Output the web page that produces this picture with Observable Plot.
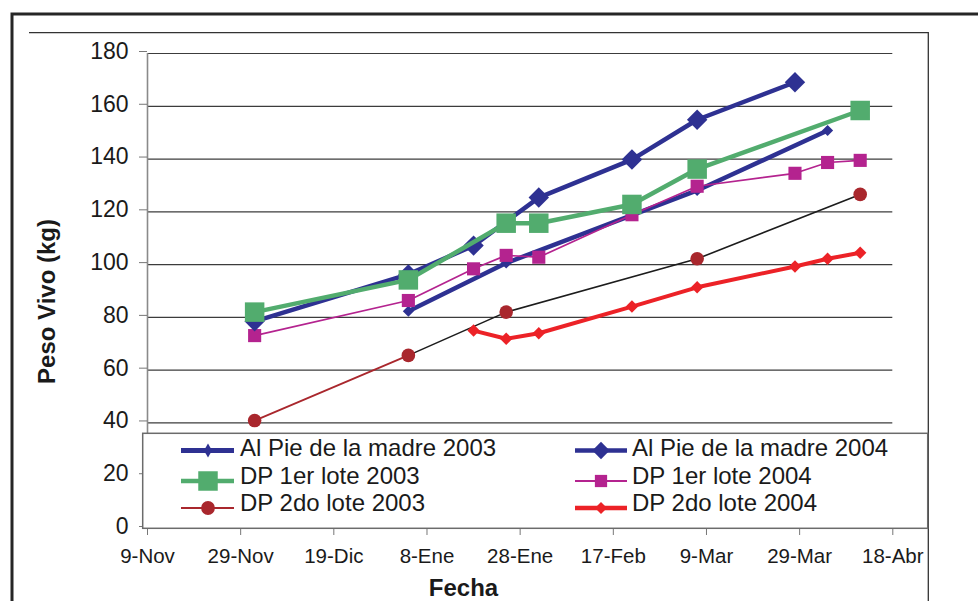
<!DOCTYPE html>
<html>
<head>
<meta charset="utf-8">
<script src="https://cdn.jsdelivr.net/npm/d3@7"></script>
<script src="https://cdn.jsdelivr.net/npm/@observablehq/plot@0.6"></script>
<style>
  html, body { margin: 0; padding: 0; background: #fff; }
  #chart { width: 978px; height: 601px; overflow: hidden; position: relative; }
</style>
</head>
<body>
<div id="chart"></div>
<script>
// Peso vivo (kg) por fecha de pesada, seis lotes de terneros
const alPie2003Fechas = ["2003-01-04", "2003-01-25", "2003-03-07", "2003-04-04"];
const alPie2003Peso   = [82.3, 100.6, 128.1, 150.8];

const alPie2004Fechas = ["2002-12-02", "2003-01-04", "2003-01-18", "2003-02-01", "2003-02-21", "2003-03-07", "2003-03-28"];
const alPie2004Peso   = [78.5, 96.3, 107.2, 125.4, 139.8, 154.9, 169.1];

const dp1lote2003Fechas = ["2002-12-02", "2003-01-04", "2003-01-25", "2003-02-01", "2003-02-21", "2003-03-07", "2003-04-11"];
const dp1lote2003Peso   = [82.0, 94.2, 115.7, 115.7, 122.8, 136.2, 158.4];

const dp1lote2004Fechas = ["2002-12-02", "2003-01-04", "2003-01-18", "2003-01-25", "2003-02-01", "2003-02-21", "2003-03-07", "2003-03-28", "2003-04-04", "2003-04-11"];
const dp1lote2004Peso   = [73.1, 86.4, 98.4, 103.5, 102.8, 118.9, 129.7, 134.6, 138.7, 139.5];

const dp2lote2003Fechas = ["2002-12-02", "2003-01-04", "2003-01-25", "2003-03-07", "2003-04-11"];
const dp2lote2003Peso   = [40.9, 65.6, 82.0, 102.2, 126.6];

const dp2lote2004Fechas = ["2003-01-18", "2003-01-25", "2003-02-01", "2003-02-21", "2003-03-07", "2003-03-28", "2003-04-04", "2003-04-11"];
const dp2lote2004Peso   = [75.0, 71.9, 74.0, 84.1, 91.4, 99.3, 102.2, 104.5];

// Eje X: fechas cada 20 días y sus rótulos
const xTickFechas = ["2002-11-09", "2002-11-29", "2002-12-19", "2003-01-08", "2003-01-28", "2003-02-17", "2003-03-09", "2003-03-29", "2003-04-18"];
const xTickRotulos = ["9-Nov", "29-Nov", "19-Dic", "8-Ene", "28-Ene", "17-Feb", "9-Mar", "29-Mar", "18-Abr"];

// Eje Y
const yTicks = [0, 20, 40, 60, 80, 100, 120, 140, 160, 180];

const FONT = "'Liberation Sans', Arial, Helvetica, sans-serif";

const serie = (fechas, pesos) => fechas.map((f, i) => ({ fecha: d3.isoParse(f), peso: pesos[i] }));

const alPie2003 = serie(alPie2003Fechas, alPie2003Peso);
const alPie2004 = serie(alPie2004Fechas, alPie2004Peso);
const dp1lote2003 = serie(dp1lote2003Fechas, dp1lote2003Peso);
const dp1lote2004 = serie(dp1lote2004Fechas, dp1lote2004Peso);
const dp2lote2003 = serie(dp2lote2003Fechas, dp2lote2003Peso);
const dp2lote2004 = serie(dp2lote2004Fechas, dp2lote2004Peso);

const xTicks = xTickFechas.map(d3.isoParse);
const rotulo = new Map(xTicks.map((d, i) => [+d, xTickRotulos[i]]));

const C = {
  azul: "#2e3192",
  verde: "#52ac6e",
  magenta: "#b4238f",
  granate: "#a9272d",
  negro: "#1c1c1c",
  rojo: "#ec2227"
};

const chart = Plot.plot({
  width: 978,
  height: 601,
  marginLeft: 147,
  marginRight: 85.7,
  marginTop: 53,
  marginBottom: 73,
  style: { fontFamily: FONT, background: "#fff", color: "#1a1a1a", overflow: "visible" },
  x: { type: "utc", domain: [xTicks[0], xTicks[xTicks.length - 1]], label: null },
  y: { domain: [0, 180], label: null },
  marks: [
    Plot.ruleY(yTicks.filter(v => v > 0), { stroke: "#3c3c3c", strokeWidth: 1.2 }),
    Plot.ruleX([xTicks[0]], { y1: 0, y2: 180, stroke: "#8a8a8a", strokeWidth: 1.6 }),
    Plot.axisY({ ticks: yTicks, tickSize: 8, tickPadding: 11, fontSize: 23, stroke: "#777", dy: -2, label: null }),
    Plot.axisX({ ticks: xTicks, tickFormat: d => rotulo.get(+d), tickSize: 7, tickPadding: 13, fontSize: 20.5, stroke: "#777", label: null }),

    // DP 2do lote 2003: tramo inicial granate, resto en negro
    Plot.line(dp2lote2003.slice(0, 2), { x: "fecha", y: "peso", stroke: C.granate, strokeWidth: 1.8 }),
    Plot.line(dp2lote2003.slice(1), { x: "fecha", y: "peso", stroke: C.negro, strokeWidth: 1.6 }),
    Plot.dot(dp2lote2003, { x: "fecha", y: "peso", symbol: "circle", r: 6.8, fill: C.granate, stroke: "none" }),

    // DP 2do lote 2004
    Plot.line(dp2lote2004, { x: "fecha", y: "peso", stroke: C.rojo, strokeWidth: 4 }),
    Plot.dot(dp2lote2004, { x: "fecha", y: "peso", symbol: "diamond2", r: 5.6, fill: C.rojo, stroke: "none" }),

    // Al pie de la madre 2003
    Plot.line(alPie2003, { x: "fecha", y: "peso", stroke: C.azul, strokeWidth: 4.5 }),
    Plot.dot(alPie2003, { x: "fecha", y: "peso", symbol: "diamond2", r: 5, fill: C.azul, stroke: "none" }),

    // DP 1er lote 2004
    Plot.line(dp1lote2004, { x: "fecha", y: "peso", stroke: C.magenta, strokeWidth: 1.7 }),
    Plot.dot(dp1lote2004, { x: "fecha", y: "peso", symbol: "square", r: 7.4, fill: C.magenta, stroke: "none" }),

    // Al pie de la madre 2004
    Plot.line(alPie2004, { x: "fecha", y: "peso", stroke: C.azul, strokeWidth: 4.5 }),
    Plot.dot(alPie2004, { x: "fecha", y: "peso", symbol: "diamond2", r: 9.2, fill: C.azul, stroke: "none" }),

    // DP 1er lote 2003
    Plot.line(dp1lote2003, { x: "fecha", y: "peso", stroke: C.verde, strokeWidth: 4.5 }),
    Plot.dot(dp1lote2003, { x: "fecha", y: "peso", symbol: "square", r: 11, fill: C.verde, stroke: "none" })
  ]
});

document.getElementById("chart").appendChild(chart);

const svg = d3.select(chart);

// Marcos del gráfico
svg.append("path")
  .attr("d", "M12,601 V14 H978")
  .attr("fill", "none").attr("stroke", "#262626").attr("stroke-width", 3);
svg.append("path")
  .attr("d", "M29,32.7 H928.3 V601")
  .attr("fill", "none").attr("stroke", "#333").attr("stroke-width", 1.3);

// Títulos de ejes
svg.append("text")
  .attr("x", 463.5).attr("y", 596)
  .attr("text-anchor", "middle")
  .attr("font-family", FONT).attr("font-weight", "bold").attr("font-size", 24)
  .attr("fill", "#1a1a1a")
  .text("Fecha");
svg.append("text")
  .attr("transform", "translate(55,301.5) rotate(-90)")
  .attr("text-anchor", "middle")
  .attr("font-family", FONT).attr("font-weight", "bold").attr("font-size", 24)
  .attr("fill", "#1a1a1a")
  .text("Peso Vivo (kg)");

// Leyenda
const leyenda = [
  { label: "Al Pie de la madre 2003", color: C.azul, lw: 5, sym: d3.symbolDiamond, size: 57, col: 0, row: 0 },
  { label: "Al Pie de la madre 2004", color: C.azul, lw: 4.5, sym: d3.symbolDiamond2, size: 190, col: 1, row: 0 },
  { label: "DP 1er lote 2003", color: C.verde, lw: 4.5, sym: d3.symbolSquare, size: 380, col: 0, row: 1 },
  { label: "DP 1er lote 2004", color: C.magenta, lw: 1.8, sym: d3.symbolSquare, size: 150, col: 1, row: 1 },
  { label: "DP 2do lote 2003", color: C.granate, lw: 2, sym: d3.symbolCircle, size: 150, col: 0, row: 2 },
  { label: "DP 2do lote 2004", color: C.rojo, lw: 4.5, sym: d3.symbolDiamond2, size: 92, col: 1, row: 2 }
];
const colX = [{ x0: 181, x1: 234, m: 208, t: 240 }, { x0: 575, x1: 627, m: 601, t: 632 }];
const rowY = [{ l: 450.5, t: 455.5 }, { l: 481, t: 483.5 }, { l: 508, t: 510.5 }];

const g = svg.append("g").attr("text-anchor", "start");
g.append("rect")
  .attr("x", 142.7).attr("y", 433.3).attr("width", 785).attr("height", 95)
  .attr("fill", "#fff").attr("stroke", "#6b6b6b").attr("stroke-width", 1.5);

for (const it of leyenda) {
  const c = colX[it.col], r = rowY[it.row];
  g.append("line")
    .attr("x1", c.x0).attr("x2", c.x1).attr("y1", r.l).attr("y2", r.l)
    .attr("stroke", it.color).attr("stroke-width", it.lw);
  g.append("path")
    .attr("transform", `translate(${c.m},${r.l})`)
    .attr("d", d3.symbol().type(it.sym).size(it.size)())
    .attr("fill", it.color);
  g.append("text")
    .attr("x", c.t).attr("y", r.t)
    .attr("text-anchor", "start")
    .attr("font-family", FONT).attr("font-size", 24)
    .attr("fill", "#1a1a1a")
    .text(it.label);
}
</script>
</body>
</html>
